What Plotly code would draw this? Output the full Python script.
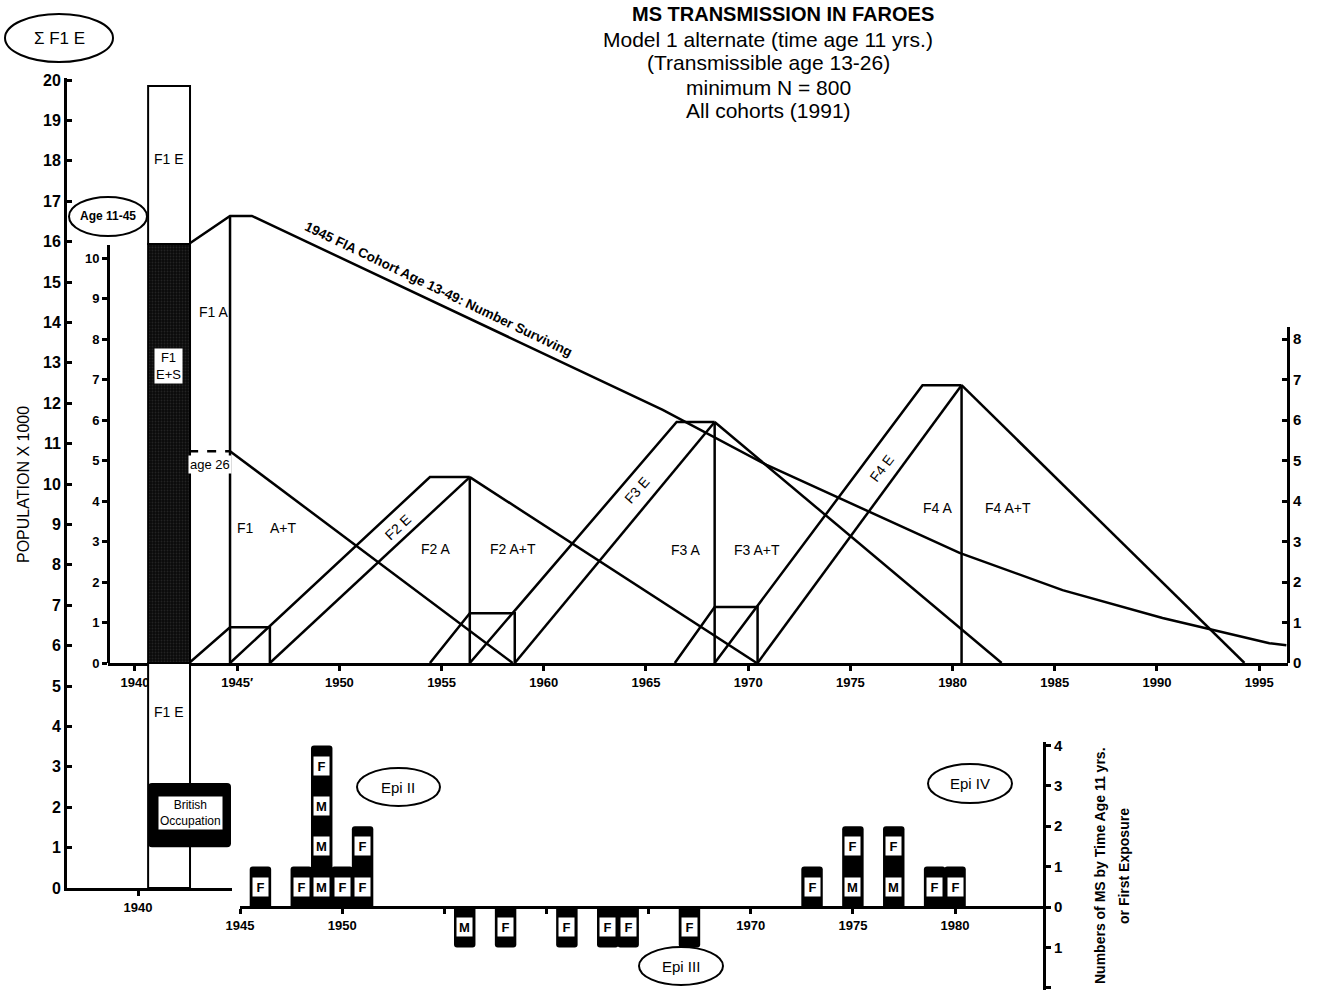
import plotly.graph_objects as go

W, H = 1326, 990
FONT = "Liberation Sans, Arial, Helvetica, sans-serif"

# ---------------- DATA ----------------
# 1945 F1A cohort (age 13-49): number surviving (population x 1000, inner scale)
cohort_years = [1942.65, 1944.65, 1945.72, 1965.82, 1970.90, 1980.34, 1985.38, 1990.27, 1995.50, 1996.33]
cohort_vals = [10.35, 11.04, 11.04, 6.25, 4.89, 2.72, 1.80, 1.11, 0.49, 0.44]

# F1 generation
f1_bar_right = 1942.65
f1_age26 = 5.23
f1_peak_year = 1944.65
f1_decline_end = 1958.48

# F2..F4 exposure bands
gen_labels = ["F2", "F3", "F4"]
band_top_start = [1954.43, 1966.50, 1978.53]
peak_years = [1956.38, 1968.36, 1980.44]
peak_vals = [4.59, 5.95, 6.86]
decline_end = [1970.42, 1982.40, 1994.28]

# transmitting rectangles F1..F3
rect_start = [1944.65, 1956.38, 1968.36]
rect_end = [1946.60, 1958.58, 1970.46]
rect_height = [0.88, 1.23, 1.38]
diag_start = [1942.65, 1954.43, 1966.41]

# Sigma F1 E bar (outer scale, population x 1000)
f1_bar_center = 1941.52
f1_bar_width = 2.05
f1_levels = [0.0, 5.57, 15.94, 19.85]
f1_colors = ["white", "#0a0a0a", "white"]

# British occupation box (outer scale)
occupation_years = [1940.49, 1944.55]
occupation_range = [1.01, 2.60]

# MS cases by time age 11 yrs or first exposure
ms_years = [1946, 1948, 1949, 1950, 1951, 1956, 1958, 1961, 1963, 1964, 1967, 1973, 1975, 1977, 1979, 1980]
ms_counts = [1, 1, 4, 1, 2, -1, -1, -1, -1, -1, -1, 1, 2, 2, 1, 1]
ms_sex = ["F", "F", "FMMM", "F", "FF", "M", "F", "F", "F", "F", "F", "F", "FM", "FM", "F", "F"]

upper_ticks = [1940, 1945, 1950, 1955, 1960, 1965, 1970, 1975, 1980, 1985, 1990, 1995]
upper_ticktext = ["1940", "1945\u2032", "1950", "1955", "1960", "1965", "1970", "1975", "1980", "1985", "1990", "1995"]
lower_ticks = [1945, 1950, 1955, 1960, 1965, 1970, 1975, 1980]
lower_ticktext = ["1945", "1950", "", "", "", "1970", "1975", "1980"]
ms_ticks = [-2, -1, 0, 1, 2, 3, 4]
ms_ticktext = ["2", "1", "0", "1", "2", "3", "4"]

title_lines = ["Model 1 alternate (time age 11 yrs.)", "(Transmissible age 13-26)",
               "minimum N = 800", "All cohorts (1991)"]


# ---------------- helpers ----------------
def px2x(px):
    return px / W


def px2y(py):
    return 1 - py / H


def lines_trace(xs, ys, dash="solid", axes=("x", "y"), width=2.5):
    return go.Scatter(x=xs, y=ys, mode="lines", xaxis=axes[0], yaxis=axes[1],
                      line=dict(color="black", width=width, dash=dash),
                      showlegend=False, hoverinfo="skip", connectgaps=False)


fig = go.Figure()

# ---- tall F1 bar (outer axes) ----
for i in range(3):
    seg = dict(color=f1_colors[i], line=dict(color="black", width=2))
    if i == 1:
        seg["pattern"] = dict(shape=".", fgcolor="#3c3c3c", size=3, solidity=0.3)
    fig.add_trace(go.Bar(x=[f1_bar_center], y=[f1_levels[i + 1] - f1_levels[i]], base=[f1_levels[i]],
                         width=[f1_bar_width], marker=seg, xaxis="x4", yaxis="y4",
                         showlegend=False, hoverinfo="skip"))

# British occupation box
fig.add_trace(go.Bar(x=[(occupation_years[0] + occupation_years[1]) / 2],
                     y=[occupation_range[1] - occupation_range[0]], base=[occupation_range[0]],
                     width=[occupation_years[1] - occupation_years[0]],
                     marker=dict(color="black", cornerradius=4, line=dict(width=0)),
                     xaxis="x4", yaxis="y4", showlegend=False, hoverinfo="skip"))

# ---- upper chart lines ----
fig.add_trace(lines_trace(cohort_years, cohort_vals))
fig.add_trace(lines_trace([f1_peak_year, f1_peak_year], [0, cohort_vals[1]]))
fig.add_trace(lines_trace([f1_bar_right, f1_peak_year], [f1_age26, f1_age26], dash="dash"))
fig.add_trace(lines_trace([f1_peak_year, f1_decline_end], [f1_age26, 0]))

gx, gy = [], []
for i in range(3):
    p = peak_vals[i]
    gx += [rect_start[i], band_top_start[i], peak_years[i], None]
    gy += [0, p, p, None]
    gx += [rect_end[i], peak_years[i], None]
    gy += [0, p, None]
    gx += [peak_years[i], peak_years[i], None]
    gy += [0, p, None]
    gx += [peak_years[i], decline_end[i], None]
    gy += [p, 0, None]
fig.add_trace(lines_trace(gx, gy))

rx, ry = [], []
for i in range(3):
    h = rect_height[i]
    rx += [diag_start[i], rect_start[i], rect_end[i], rect_end[i], None]
    ry += [0, h, h, 0, None]
fig.add_trace(lines_trace(rx, ry))

# dummy traces to create the inner left and right axes
fig.add_trace(go.Scatter(x=[None], y=[None], xaxis="x", yaxis="y2", showlegend=False))
fig.add_trace(go.Scatter(x=[None], y=[None], xaxis="x", yaxis="y3", showlegend=False))

# ---- MS bars ----
fig.add_trace(go.Bar(x=ms_years, y=ms_counts, width=1.05, xaxis="x5", yaxis="y5",
                     marker=dict(color="black", cornerradius=3, line=dict(width=0)),
                     showlegend=False, hoverinfo="skip"))

annotations = []
for yr, cnt, letters in zip(ms_years, ms_counts, ms_sex):
    for j, ch in enumerate(letters):
        yv = (cnt - 0.5 - j) if cnt > 0 else (-0.5 - j)
        annotations.append(dict(x=yr, y=yv, xref="x5", yref="y5", text=f"<b>{ch}</b>",
                                showarrow=False, bgcolor="white", width=13, height=16,
                                xanchor="center", yanchor="middle",
                                font=dict(family=FONT, size=13, color="black")))


def ann(text, x, y, xref="paper", yref="paper", size=14, bold=False, angle=0, bg=None, **kw):
    d = dict(text=f"<b>{text}</b>" if bold else text, x=x, y=y, xref=xref, yref=yref,
             showarrow=False, textangle=angle, xanchor="center", yanchor="middle",
             font=dict(family=FONT, size=size, color="black"))
    if bg:
        d["bgcolor"] = bg
    d.update(kw)
    annotations.append(d)


# title
ann("MS TRANSMISSION IN FAROES", px2x(783), px2y(14), size=20, bold=True)
for k, t in enumerate(title_lines):
    ann(t, px2x(768), px2y(39 + k * 24), size=21)

# axis titles
ann("POPULATION X 1000", px2x(24), px2y(485), size=16, angle=-90)
ann("Numbers of MS by Time Age 11 yrs.", px2x(1100), px2y(866), size=14, bold=True, angle=-90)
ann("or First Exposure", px2x(1124), px2y(866), size=14, bold=True, angle=-90)

# ellipse labels
ann("\u03a3 F1 E", px2x(59), px2y(38), size=17)
ann("Age 11-45", px2x(108), px2y(216), size=12, bold=True)
ann("Epi II", px2x(398), px2y(787), size=15)
ann("Epi III", px2x(681), px2y(966), size=15)
ann("Epi IV", px2x(970), px2y(783), size=15)

# labels on tall bar (outer axes)
ann("F1 E", 1941.5, 18.04, "x4", "y4", size=14)
ann("F1<br>E+S", 1941.5, 12.92, "x4", "y4", size=13, bg="white")
ann("F1 E", 1941.5, 4.36, "x4", "y4", size=14)
ann("British<br>Occupation", 1942.55, 1.85, "x4", "y4", size=12, bg="white")

# labels in the upper chart
ann("F1 A", 1943.82, 8.67, "x", "y", size=14)
ann("age 26", 1943.67, 4.89, "x", "y", size=13, bg="white")
ann("F1", 1945.43, 3.33, "x", "y", size=14)
ann("A+T", 1947.29, 3.33, "x", "y", size=14)
ann("F2 E", 1952.87, 3.36, "x", "y", size=14, angle=-43)
ann("F2 A", 1954.68, 2.81, "x", "y", size=14)
ann("F2 A+T", 1958.49, 2.81, "x", "y", size=14)
ann("F3 E", 1964.56, 4.27, "x", "y", size=14, angle=-49)
ann("F3 A", 1966.91, 2.79, "x", "y", size=14)
ann("F3 A+T", 1970.43, 2.79, "x", "y", size=14)
ann("F4 E", 1976.55, 4.81, "x", "y", size=14, angle=-53)
ann("F4 A", 1979.24, 3.83, "x", "y", size=14)
ann("F4 A+T", 1982.71, 3.83, "x", "y", size=14)
ann("1945 FIA Cohort Age 13-49: Number Surviving", 1954.87, 9.21, "x", "y", size=13.5, bold=True, angle=25.6)


def ellipse(x0, y0, x1, y1, fill="rgba(0,0,0,0)"):
    return dict(type="circle", xref="paper", yref="paper", x0=px2x(x0), x1=px2x(x1),
                y0=px2y(y1), y1=px2y(y0), line=dict(color="black", width=2), fillcolor=fill)


shapes = [
    ellipse(5, 14, 113, 62),
    ellipse(69, 197, 147, 236, fill="white"),
    ellipse(357, 768, 440, 806),
    ellipse(639, 947, 723, 985),
    ellipse(928, 764, 1012, 803),
]

axis_common = dict(showgrid=False, zeroline=False, showline=True, linecolor="black", linewidth=3,
                   tickcolor="black", tickwidth=2.5, ticklen=5, automargin=False)

YU = 40.5  # px per unit in upper chart
fig.update_layout(
    width=W, height=H, autosize=False,
    margin=dict(l=0, r=0, t=0, b=0, pad=0, autoexpand=False),
    paper_bgcolor="white", plot_bgcolor="rgba(0,0,0,0)",
    barmode="overlay", showlegend=False,
    font=dict(family=FONT, color="black"),
    xaxis=dict(domain=[px2x(108), px2x(1288)], range=[1938.68, 1996.41], anchor="y",
               tickvals=upper_ticks, ticktext=upper_ticktext, ticks="outside",
               tickfont=dict(family=FONT, size=13, weight="bold"), **axis_common),
    yaxis=dict(domain=[px2y(663), px2y(60)], range=[0, (663 - 60) / YU], visible=False),
    yaxis2=dict(domain=[px2y(663), px2y(245)], range=[0, (663 - 245) / YU], anchor="free",
                position=px2x(108), side="left", tickvals=list(range(0, 11)), ticks="outside",
                tickfont=dict(family=FONT, size=13, weight="bold"), **axis_common),
    yaxis3=dict(domain=[px2y(663), px2y(327)], range=[0, (663 - 327) / YU], anchor="free",
                position=px2x(1288), side="right", tickvals=list(range(0, 9)), ticks="inside",
                tickfont=dict(family=FONT, size=15, weight="bold"), **axis_common),
    xaxis4=dict(domain=[px2x(67), px2x(232)], range=[1940 - 71 / 20.44, 1940 + 94 / 20.44],
                anchor="y4", tickvals=[1940], ticks="outside",
                tickfont=dict(family=FONT, size=13, weight="bold"), **axis_common),
    yaxis4=dict(domain=[px2y(888), px2y(78)], range=[0, (888 - 78) / 40.4], anchor="x4",
                tickvals=list(range(0, 21)), ticks="inside",
                tickfont=dict(family=FONT, size=16, weight="bold"), **axis_common),
    xaxis5=dict(domain=[px2x(240), px2x(1043)], range=[1945, 1945 + 803 / 20.43], anchor="free",
                position=px2y(907), tickvals=lower_ticks, ticktext=lower_ticktext, ticks="outside",
                tickfont=dict(family=FONT, size=13, weight="bold"), **axis_common),
    yaxis5=dict(domain=[0, px2y(742)], range=[-83 / 40.4, 165 / 40.4], anchor="x5", side="right",
                tickvals=ms_ticks, ticktext=ms_ticktext, ticks="outside",
                tickfont=dict(family=FONT, size=15, weight="bold"), **axis_common),
    annotations=annotations,
    shapes=shapes,
)

fig.write_html("out.html", config={"displayModeBar": False},
               post_script="document.body.style.margin='0';")
